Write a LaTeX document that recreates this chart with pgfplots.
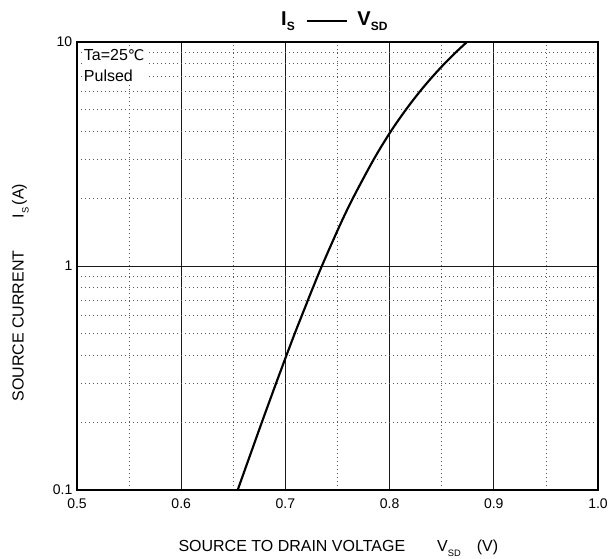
\documentclass[border=0pt]{standalone}
\usepackage{fontspec}
\setmainfont{Liberation Sans}
\newfontfamily\dejavu{DejaVu Sans}
\usepackage{pgfplots}
\pgfplotsset{compat=1.18}
\usetikzlibrary{calc}

\begin{document}
\begin{tikzpicture}
% frame of the whole picture: 614x558 px at 0.75pt per px
\useasboundingbox (-57.75pt,-51pt) rectangle (402.75pt,367.5pt);
\begin{axis}[
  name=ax,
  at={(0,0)},anchor=south west,
  scale only axis,
  width=390.75pt,height=336pt,
  xmin=0.5,xmax=1.0,
  ymode=log,ymin=0.1,ymax=10,
  xtick={0.5,0.6,0.7,0.8,0.9,1.0},
  minor x tick num=1,
  ytick={0.1,1,10},
  yticklabels={0.1,1,10},
  x tick label style={/pgf/number format/.cd,fixed,fixed zerofill,precision=1},
  /pgf/number format/assume math mode=true,
  major tick length=0pt,minor tick length=0pt,
  tick label style={font=\fontsize{10.5}{12}\selectfont},
  xticklabel shift=3pt,
  yticklabel shift=0pt,
  grid=both,
  major grid style={black!90,line width=0.6pt},
  minor grid style={black!65,line width=0.6pt,dash pattern=on 0.6pt off 2.4pt},
  axis line style={black,line width=1.1pt},
  clip=true,
]
% (I_S in A against V_SD in V)
\addplot[black,line width=1.6pt,smooth] coordinates {
  (0.6542,0.1) (0.6677,0.15) (0.6773,0.2) (0.6911,0.3) (0.7011,0.4)
  (0.7090,0.5) (0.7157,0.6) (0.7264,0.8) (0.7350,1.0) (0.7517,1.5)
  (0.7646,2.0) (0.7849,3.0) (0.8013,4.0) (0.8158,5.0) (0.8289,6.0)
  (0.8411,7.0) (0.8526,8.0) (0.8636,9.0) (0.8742,10.0)
};
\end{axis}
% annotation box in the upper left
\node[anchor=north west,fill=white,inner sep=1.5pt,align=left,
      font=\fontsize{12}{15.5}\selectfont]
  at ($(ax.north west)+(3.5pt,-4pt)$) {Ta=25{\dejavu\fontsize{11}{12}\selectfont ℃}\\Pulsed};
% title
\node[font=\bfseries\fontsize{15}{16}\selectfont,anchor=base]
  at ($(ax.north west)+(193pt,12.5pt)$)
  {I\raisebox{-0.5ex}{\fontsize{9}{9}\selectfont S}\hspace{9pt}\rule[0.35ex]{30pt}{1.3pt}\hspace{8pt}V\raisebox{-0.5ex}{\fontsize{9}{9}\selectfont SD}};
% x label
\node[font=\fontsize{12}{14}\selectfont,anchor=base]
  at ($(ax.south west)+(196pt,-46pt)$)
  {SOURCE TO DRAIN VOLTAGE\qquad V\raisebox{-0.6ex}{\fontsize{7}{7}\selectfont SD}\quad (V)};
% y label
\node[font=\fontsize{12}{14}\selectfont,rotate=90,anchor=base]
  at ($(ax.south west)+(-40pt,148pt)$)
  {SOURCE CURRENT\qquad I\raisebox{-0.6ex}{\fontsize{7}{7}\selectfont S}\,(A)};
\end{tikzpicture}
\end{document}
